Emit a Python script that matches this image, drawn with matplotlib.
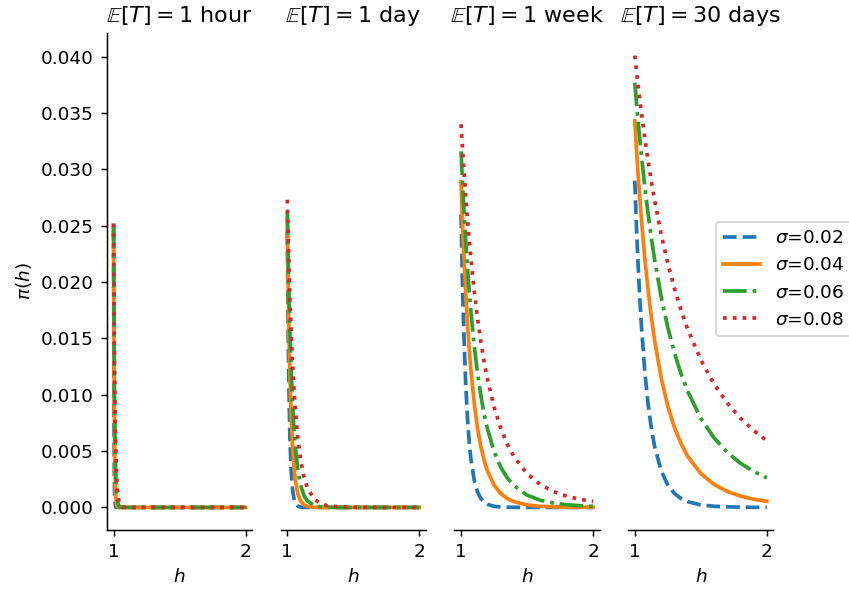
import matplotlib.pyplot as plt

sigmas = [0.02, 0.04, 0.06, 0.08]
titles = ['1 hour', '1 day', '1 week', '30 days']
colors = ['tab:blue', 'tab:orange', 'tab:green', 'tab:red']
styles = ['--', '-', '-.', ':']

# values, one list per sigma (0.02, 0.04, 0.06, 0.08)
h_hour = [1.0, 1.0025, 1.005, 1.0075, 1.01, 1.015, 1.02, 1.025, 1.03, 1.04, 1.05, 1.075, 1.1, 1.5, 2.0]
pi_hour = [
    [0.0249, 0.0094, 0.00356, 0.00135, 0.00051, 0.00007, 0.00001, 0, 0, 0, 0, 0, 0, 0, 0],
    [0.0250, 0.01536, 0.00945, 0.00583, 0.00359, 0.00137, 0.00053, 0.0002, 0.00008, 0.00001, 0, 0, 0, 0, 0],
    [0.0251, 0.01805, 0.0130, 0.00936, 0.00675, 0.00352, 0.00184, 0.00096, 0.00051, 0.00014, 0.00004, 0, 0, 0, 0],
    [0.0252, 0.01983, 0.01561, 0.0123, 0.00969, 0.00604, 0.00376, 0.00236, 0.00147, 0.00058, 0.00023, 0.00002, 0, 0, 0],
]

h_day = [1.0, 1.005, 1.01, 1.015, 1.02, 1.03, 1.04, 1.05, 1.06, 1.08, 1.1, 1.125, 1.15, 1.2, 1.25, 1.3, 1.4, 1.5, 1.75, 2.0]
pi_day = [
    [0.0245, 0.01728, 0.01221, 0.00864, 0.00613, 0.00309, 0.00157, 0.00081, 0.00041, 0.00011, 0.00003, 0.00001, 0, 0, 0, 0, 0, 0, 0, 0],
    [0.0256, 0.02097, 0.0172, 0.01411, 0.01159, 0.00785, 0.00533, 0.00364, 0.00249, 0.00118, 0.00057, 0.00023, 0.0001, 0.00002, 0, 0, 0, 0, 0, 0],
    [0.0263, 0.02299, 0.0201, 0.0176, 0.01541, 0.01184, 0.00912, 0.00704, 0.00545, 0.00329, 0.00201, 0.00109, 0.0006, 0.00019, 0.00006, 0.00002, 0, 0, 0, 0],
    [0.0273, 0.02477, 0.02248, 0.02042, 0.01856, 0.01534, 0.0127, 0.01054, 0.00876, 0.00609, 0.00426, 0.00275, 0.00179, 0.00078, 0.00035, 0.00016, 0.00004, 0.00001, 0, 0],
]

h_week = [1.0, 1.005, 1.01, 1.02, 1.035, 1.05, 1.0625, 1.075, 1.1, 1.125, 1.15, 1.175, 1.2, 1.25, 1.3, 1.35,
          1.4, 1.5, 1.6, 1.7, 1.8, 1.9, 2.0]
pi_week = [
    [0.0260, 0.02295, 0.02027, 0.01585, 0.0110, 0.00768, 0.00571, 0.00426, 0.0024, 0.00137, 0.00079, 0.00046,
     0.00027, 0.0001, 0.00004, 0.00002, 0.00001, 0, 0, 0, 0, 0, 0],
    [0.0289, 0.02722, 0.02565, 0.02279, 0.01913, 0.01609, 0.01396, 0.01214, 0.00921, 0.00703, 0.0054, 0.00417,
     0.00324, 0.00199, 0.00124, 0.00079, 0.00051, 0.00022, 0.0001, 0.00005, 0.00003, 0.00001, 0.00001],
    [0.0316, 0.03032, 0.02909, 0.02681, 0.02375, 0.02108, 0.01911, 0.01734, 0.01432, 0.01189, 0.00991, 0.00829,
     0.00696, 0.00496, 0.00358, 0.00262, 0.00194, 0.00109, 0.00064, 0.00039, 0.00024, 0.00015, 0.0001],
    [0.0340, 0.0330, 0.03203, 0.0302, 0.02766, 0.02537, 0.02363, 0.02203, 0.01919, 0.01677, 0.0147, 0.01292,
     0.01139, 0.00891, 0.00704, 0.00562, 0.00452, 0.00299, 0.00203, 0.00141, 0.0010, 0.00072, 0.00053],
]

h_month = [1.0, 1.0125, 1.025, 1.0375, 1.05, 1.075, 1.1, 1.125, 1.15, 1.2, 1.25, 1.3, 1.35, 1.4, 1.5, 1.6,
           1.7, 1.8, 1.9, 2.0]
pi_month = [
    [0.0290, 0.02498, 0.02156, 0.01864, 0.01615, 0.01218, 0.00924, 0.00706, 0.00542, 0.00325, 0.00199, 0.00124,
     0.00079, 0.00051, 0.00022, 0.0001, 0.00005, 0.00003, 0.00001, 0.00001],
    [0.0343, 0.03184, 0.02958, 0.0275, 0.0256, 0.02223, 0.01936, 0.01692, 0.01483, 0.01149, 0.00899, 0.00711,
     0.00567, 0.00455, 0.00301, 0.00204, 0.00142, 0.00101, 0.00073, 0.00054],
    [0.0377, 0.03594, 0.03428, 0.03272, 0.03125, 0.02854, 0.02612, 0.02395, 0.02201, 0.01868, 0.01597, 0.01373,
     0.01187, 0.01032, 0.00791, 0.00617, 0.00489, 0.00392, 0.00319, 0.00262],
    [0.0401, 0.03875, 0.03746, 0.03623, 0.03505, 0.03284, 0.03082, 0.02897, 0.02727, 0.02424, 0.02166, 0.01944,
     0.01752, 0.01584, 0.0131, 0.01096, 0.00927, 0.00792, 0.00682, 0.00592],
]

panels = [(h_hour, pi_hour), (h_day, pi_day), (h_week, pi_week), (h_month, pi_month)]

dpi = 133.334
fig, axes = plt.subplots(1, 4, sharey=True, figsize=(6.3675, 4.44), dpi=dpi)
fig.subplots_adjust(left=0.126, right=0.911, bottom=0.1047, top=0.9443, wspace=0.196)

for i, ax in enumerate(axes):
    h, curves = panels[i]
    for j, sigma in enumerate(sigmas):
        ax.plot(h, curves[j], color=colors[j], linestyle=styles[j], lw=2,
                label=r'$\sigma$=%.2f' % sigma)
    ax.set_title(r'$\mathbb{E}[T]=$' + titles[i], fontsize=12)
    ax.set_xlabel('$h$')
    ax.set_xticks([1, 2])
    ax.spines['top'].set_visible(False)
    ax.spines['right'].set_visible(False)
    if i > 0:
        ax.spines['left'].set_visible(False)
        ax.tick_params(axis='y', left=False, labelleft=False)

axes[0].set_ylabel(r'$\pi(h)$')
axes[3].legend(loc='center left', bbox_to_anchor=(0.541, 0.505))

fig.savefig('out.png', dpi=dpi)
